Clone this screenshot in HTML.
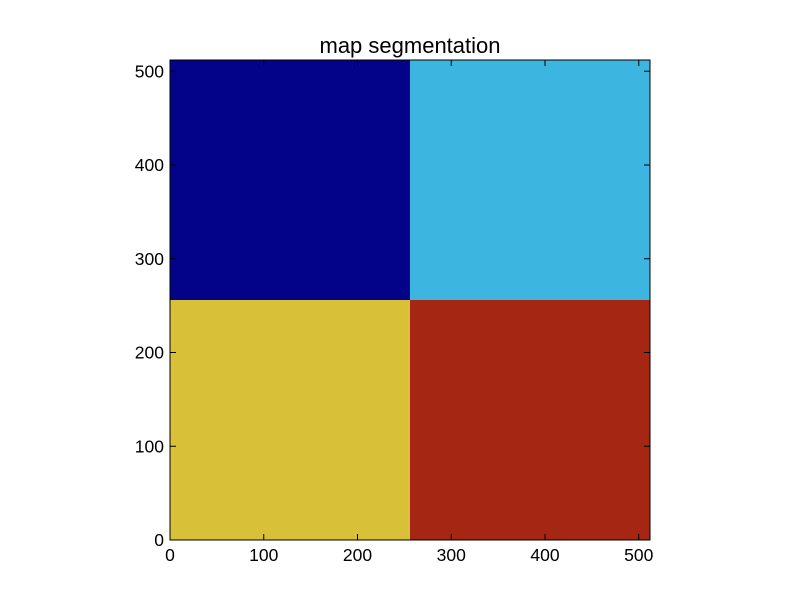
<!DOCTYPE html>
<html><head><meta charset="utf-8"><style>
body{margin:0;background:#fff;}
svg text{font-family:"Liberation Sans",sans-serif;}
</style></head><body>
<svg id="chart" width="800" height="600" xmlns="http://www.w3.org/2000/svg">
<rect width="800" height="600" fill="#fff"/>
<text x="410" y="53" font-size="22" text-anchor="middle">map segmentation</text>
<g id="cells"></g>
<g id="axes"></g>
</svg>
<script>
const quadrantX = [0, 256, 0, 256];
const quadrantY = [256, 256, 0, 0];
const quadrantSize = [256, 256, 256, 256];
const quadrantColor = ["#03038a", "#3cb6e0", "#d8c038", "#a52612"];
const xTicks = [0, 100, 200, 300, 400, 500];
const yTicks = [0, 100, 200, 300, 400, 500];
const ns = "http://www.w3.org/2000/svg";
const L = 170, T = 60, W = 480, H = 480, MAX = 512;
const sx = v => L + v / MAX * W;
const sy = v => T + H - v / MAX * H;
const cells = document.getElementById('cells');
for (let i = 0; i < quadrantX.length; i++) {
  const r = document.createElementNS(ns, 'rect');
  r.setAttribute('x', sx(quadrantX[i]));
  r.setAttribute('y', sy(quadrantY[i] + quadrantSize[i]));
  r.setAttribute('width', sx(quadrantX[i] + quadrantSize[i]) - sx(quadrantX[i]));
  r.setAttribute('height', sy(quadrantY[i]) - sy(quadrantY[i] + quadrantSize[i]));
  r.setAttribute('fill', quadrantColor[i]);
  
  
  cells.appendChild(r);
}
const axes = document.getElementById('axes');
const frame = document.createElementNS(ns, 'rect');
frame.setAttribute('x', L); frame.setAttribute('y', T);
frame.setAttribute('width', W); frame.setAttribute('height', H);
frame.setAttribute('fill', 'none'); frame.setAttribute('stroke', '#000');


axes.appendChild(frame);
function line(x1, y1, x2, y2) {
  const l = document.createElementNS(ns, 'line');
  l.setAttribute('x1', x1); l.setAttribute('y1', y1); l.setAttribute('x2', x2); l.setAttribute('y2', y2);
  l.setAttribute('stroke', '#000');
  
  
  axes.appendChild(l);
}
function text(x, y, s, anchor, name) {
  const t = document.createElementNS(ns, 'text');
  t.setAttribute('x', x); t.setAttribute('y', y); t.setAttribute('font-size', '17.5');
  t.setAttribute('text-anchor', anchor);
  t.textContent = s;
  
  
  axes.appendChild(t);
}
xTicks.forEach(v => {
  const x = sx(v);
  line(x, T + H, x, T + H - 6); line(x, T, x, T + 6);
  text(x, T + H + 21, String(v), 'middle', 'x-tick-label');
});
yTicks.forEach(v => {
  const y = sy(v);
  line(L, y, L + 6, y); line(L + W, y, L + W - 6, y);
  text(L - 6, y + 6, String(v), 'end', 'y-tick-label');
});
</script>
</body></html>
